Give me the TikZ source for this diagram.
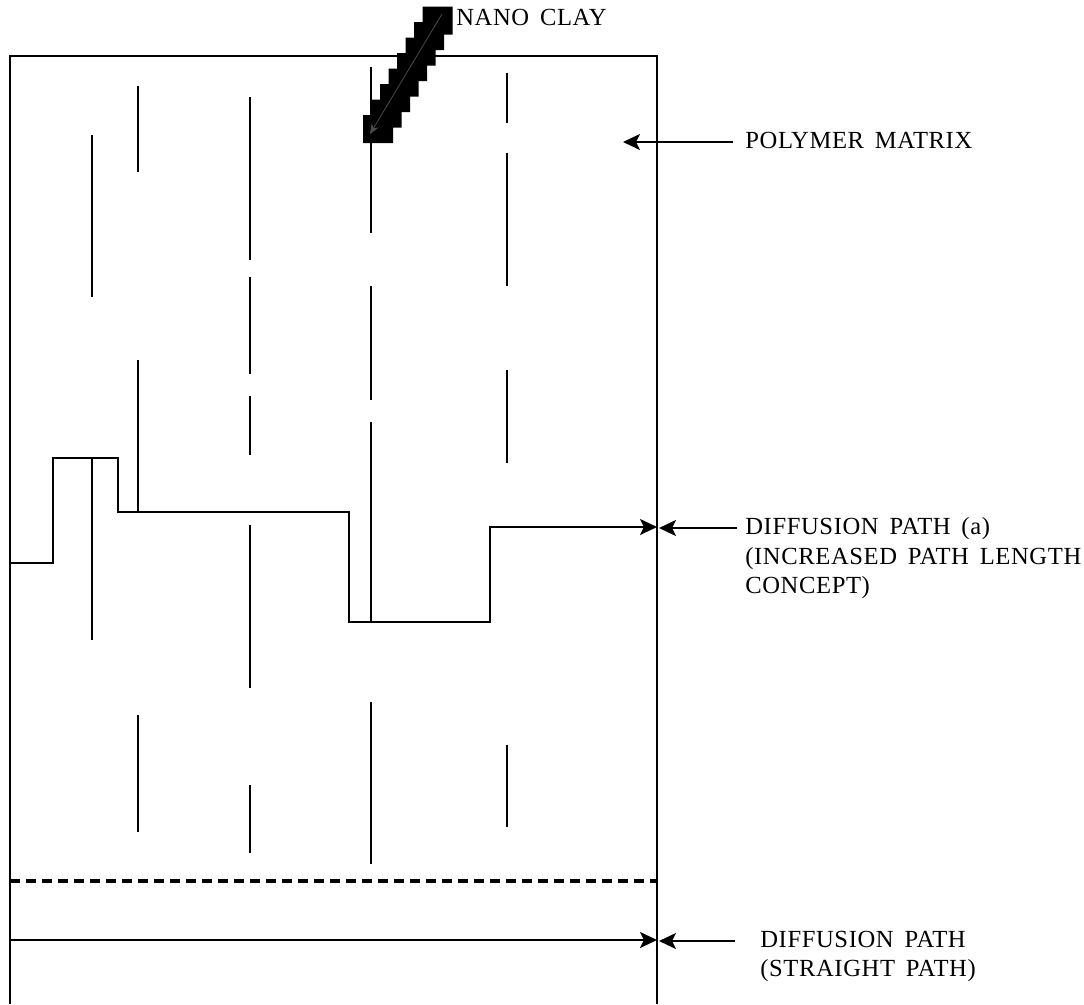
\documentclass[tikz,border=0pt]{standalone}
\usepackage{fontspec}
\setmainfont{Liberation Serif}[LetterSpace=2.5, WordSpace=1.6]
\usetikzlibrary{arrows.meta, positioning}
\tikzset{
    wall/.style={line width=1.3pt},
    platelet/.style={line width=1.2pt},
    diffpath/.style={line width=1.3pt, -{Stealth[length=3.4mm, width=3.2mm, inset=0.8mm]}},
    lblarrow/.style={line width=1.3pt, -{Stealth[length=3.4mm, width=3.2mm, inset=0.8mm]}},
    dashline/.style={line width=1.8pt, dash pattern=on 5.7pt off 3.4pt},
    clayblob/.style={fill=black},
    lbl/.style={font=\fontsize{14}{16}\selectfont, inner xsep=0pt, inner ysep=1pt,
                text height=11pt, text depth=3.4pt, anchor=west},
}

\begin{document}
\begin{tikzpicture}[x=0.02cm, y=-0.02cm]

    \useasboundingbox (0,0) rectangle (1084,1004);

    % ── POLYMER MATRIX ──
    \draw[wall] (10,1004) -- (10,56) -- (657,56) -- (657,1004);
    \coordinate (wallR) at (659,0);

    % ── CLAY PLATELETS ──
    \draw[platelet] (92,135) -- (92,297);
    \draw[platelet] (92,458) -- (92,640);

    \draw[platelet] (138,86) -- (138,172);
    \draw[platelet] (138,360) -- (138,512);
    \draw[platelet] (138,715) -- (138,832);

    \draw[platelet] (250,97) -- (250,260);
    \draw[platelet] (250,277) -- (250,374);
    \draw[platelet] (250,396) -- (250,455);
    \draw[platelet] (250,525) -- (250,688);
    \draw[platelet] (250,785) -- (250,853);

    \draw[platelet] (371,67) -- (371,233);
    \draw[platelet] (371,286) -- (371,400);
    \draw[platelet] (371,422) -- (371,622);
    \draw[platelet] (371,702) -- (371,864);

    \draw[platelet] (507,73) -- (507,123);
    \draw[platelet] (507,153) -- (507,286);
    \draw[platelet] (507,370) -- (507,463);
    \draw[platelet] (507,745) -- (507,827);

    % ── NANO CLAY POINTER ──
    \fill[clayblob] (363,143) -- (393,143) -- (393,127.5) -- (401.5,127.5) -- (401.5,112)
        -- (410,112) -- (410,96.5) -- (418.5,96.5) -- (418.5,81) -- (427,81) -- (427,65.5)
        -- (435.5,65.5) -- (435.5,50) -- (444,50) -- (444,34.5) -- (452.5,34.5) -- (452.5,6.5)
        -- (422.5,6.5) -- (422.5,22) -- (414,22) -- (414,37.5) -- (405.5,37.5) -- (405.5,53)
        -- (397,53) -- (397,68.5) -- (388.5,68.5) -- (388.5,84) -- (380,84) -- (380,99.5)
        -- (371.5,99.5) -- (371.5,115) -- (363,115) -- cycle;
    \coordinate (claytail) at (442,14);
    \coordinate (claytip) at (370,134);
    \draw[black!70!white, line width=0.4pt, -{Stealth[length=2mm, width=1.6mm]}]
        (claytail) -- (claytip);

    % ── DIFFUSION PATHS ──
    \draw[diffpath] (10,563) -- (53,563) -- (53,458) -- (118,458) -- (118,512)
        -- (349,512) -- (349,622) -- (490,622) -- (490,527) -- (657,527);
    \draw[dashline] (10,881) -- (657,881);
    \draw[diffpath] (10,940) -- (657,940);

    % ── LABELS ──
    \node[lbl] (nc) at (456,19) {NANO CLAY};
    \node[lbl] (pm) at (745,142) {POLYMER MATRIX};
    \coordinate (pmtip) at (623,0);

    \node[lbl] (dpa1) at (745,528) {DIFFUSION PATH (a)};
    \node[lbl, below=0pt of dpa1.south west, anchor=north west] (dpa2) {(INCREASED PATH LENGTH};
    \node[lbl, below=0pt of dpa2.south west, anchor=north west] (dpa3) {CONCEPT)};

    \node[lbl] (dps1) at (760,941) {DIFFUSION PATH};
    \node[lbl, below=-0.5pt of dps1.south west, anchor=north west] (dps2) {(STRAIGHT PATH)};

    % ── LABEL ARROWS ──
    \draw[lblarrow] ([xshift=-0.24cm]pm.west) -- (pm.west -| pmtip);
    \draw[lblarrow] ([xshift=-0.16cm]dpa1.west) -- (dpa1.west -| wallR);
    \draw[lblarrow] ([xshift=-0.5cm]dps1.west) -- (dps1.west -| wallR);

\end{tikzpicture}
\end{document}
